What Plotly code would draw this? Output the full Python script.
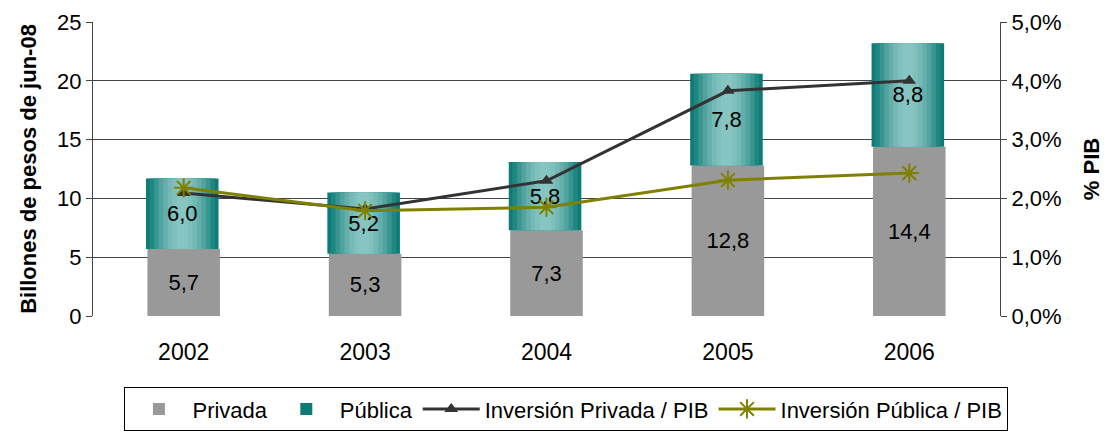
import plotly.graph_objects as go

years = ["2002", "2003", "2004", "2005", "2006"]
privada = [5.7, 5.3, 7.3, 12.8, 14.4]
publica = [6.0, 5.2, 5.8, 7.8, 8.8]
priv_pib = [2.09, 1.82, 2.30, 3.83, 4.00]
pub_pib = [2.18, 1.79, 1.85, 2.31, 2.43]

priv_labels = [f"{v:.1f}".replace(".", ",") for v in privada]
pub_labels = [f"{v:.1f}".replace(".", ",") for v in publica]

font = "Liberation Sans, Arial, sans-serif"
BW = 0.4
fig = go.Figure()

fig.add_trace(go.Bar(
    x=years, y=privada, name="Privada", marker=dict(color="#999999", line=dict(width=0)),
    width=BW, text=priv_labels, textposition="inside", insidetextanchor="middle",
    textfont=dict(size=22, color="black", family=font), yaxis="y"))

# gradient-like layers for Pública (dark edges, light centre)
layers = [(0.40, "#0f7b76"), (0.36, "#1f8782"), (0.31, "#38958f"),
          (0.26, "#50a39e"), (0.21, "#64afab"), (0.16, "#74b9b6"),
          (0.11, "#7fc0bd"), (0.06, "#86c5c2")]
for i, (w, c) in enumerate(layers):
    fig.add_trace(go.Bar(
        x=years, y=publica, base=privada, name="Pública", width=w, offset=-w / 2 - 0.008,
        marker=dict(color=c, line=dict(width=0)), showlegend=(i == 0),
        legendgroup="pub", hoverinfo="skip", textposition="none", yaxis="y"))
# transparent bar carrying the Pública labels on top of the gradient
fig.add_trace(go.Bar(
    x=years, y=publica, base=privada, name="Pública", width=BW, offset=-BW / 2 - 0.008,
    marker=dict(color="rgba(0,0,0,0)", line=dict(width=0)), showlegend=False,
    text=pub_labels, textposition="inside", insidetextanchor="middle",
    textfont=dict(size=22, color="black", family=font), yaxis="y"))

fig.add_trace(go.Scatter(
    x=years, y=priv_pib, name="Inversión Privada / PIB", mode="lines+markers",
    line=dict(color="#333333", width=3), marker=dict(symbol="triangle-up", size=12, color="#333333"),
    yaxis="y2"))
fig.add_trace(go.Scatter(
    x=years, y=pub_pib, name="Inversión Pública / PIB", mode="lines+markers",
    line=dict(color="#808000", width=3),
    marker=dict(symbol="asterisk-open", size=16, line=dict(color="#808000", width=2)),
    yaxis="y2"))

fig.update_layout(
    width=1101, height=425, barmode="overlay",
    margin=dict(l=85, r=109, t=14, b=117, autoexpand=False),
    paper_bgcolor="white", plot_bgcolor="white",
    font=dict(family=font, size=22, color="black"),
    showlegend=True,
    legend=dict(orientation="h", x=0.522, xanchor="center", y=-0.242, yanchor="top",
                bordercolor="black", borderwidth=1, font=dict(size=22),
                itemwidth=57, traceorder="normal", tracegroupgap=0),
    xaxis=dict(showgrid=False, showline=False, ticks="", ticklabelstandoff=20,
               tickfont=dict(size=23), automargin=False),
    yaxis=dict(range=[0, 25], dtick=5, showgrid=True, gridcolor="#444444", gridwidth=1,
               showline=True, linecolor="#444444", ticks="outside", ticklen=6, tickcolor="#444444",
               zeroline=True, zerolinecolor="#444444", automargin=False,
               title=dict(text="<b>Billones de pesos de jun-08</b>", font=dict(size=22), standoff=14),
               tickfont=dict(size=22)),
    yaxis2=dict(range=[0, 5], overlaying="y", side="right", showgrid=False, automargin=False,
                showline=True, linecolor="#444444", ticks="outside", ticklen=6, tickcolor="#444444",
                tickvals=[0, 1, 2, 3, 4, 5],
                ticktext=["0,0%", "1,0%", "2,0%", "3,0%", "4,0%", "5,0%"],
                title=dict(text="<b>% PIB</b>", font=dict(size=22), standoff=23),
                tickfont=dict(size=22)),
)

fig.write_html("out.html")
